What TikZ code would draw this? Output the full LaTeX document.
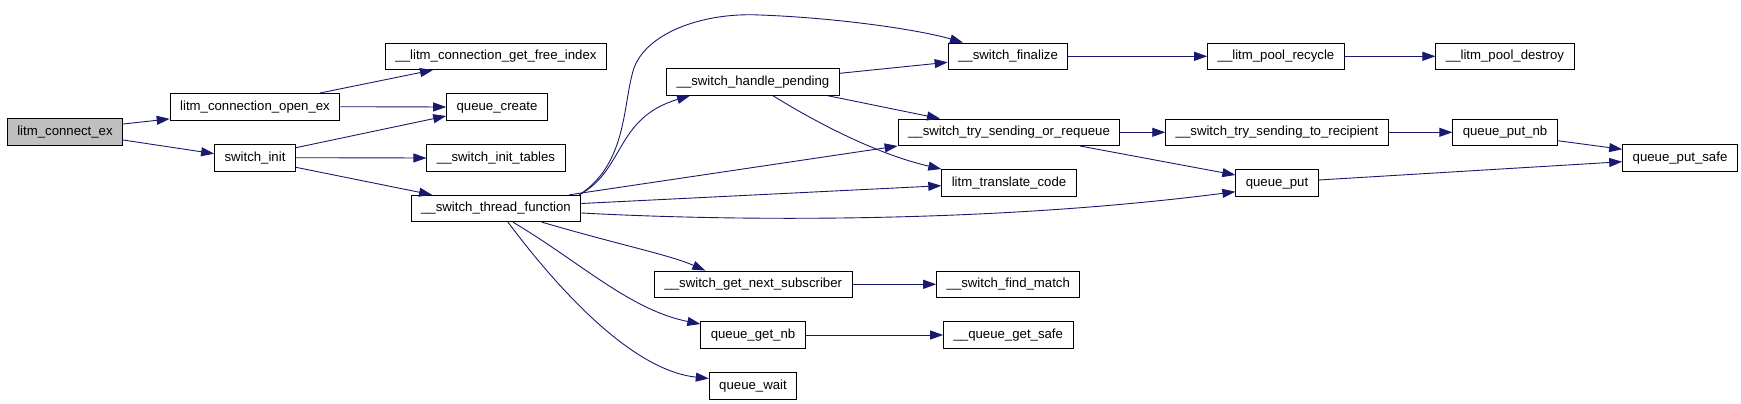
\documentclass[tikz,border=0pt]{standalone}
\usepackage{fontspec}
\setmainfont{Liberation Sans}
\usetikzlibrary{arrows.meta}
\definecolor{xNavy}{RGB}{25,25,112}
\definecolor{xGray}{RGB}{191,191,191}
\tikzset{
  fn/.style={draw, line width=0.9pt, inner xsep=10pt, inner ysep=0pt, minimum height=26.5pt,
             text height=9.6pt, text depth=2.9pt, font=\fontsize{13.2}{15}\selectfont},
  root/.style={fn, fill=xGray},
  call/.style={-{Triangle[length=13pt, width=9pt]}, line width=0.9pt, xNavy},
}
\begin{document}
\begin{tikzpicture}[x=1pt, y=-1pt]
  \useasboundingbox (0,0) rectangle (1741,404);
  \node[root] (lce)       at (65,132)     {litm\_connect\_ex};
  \node[fn]   (lcoe)      at (255,106.7)  {litm\_connection\_open\_ex};
  \node[fn]   (swinit)    at (255,157.7)  {switch\_init};
  \node[fn]   (lcgfi)     at (496,56.3)   {\_\_litm\_connection\_get\_free\_index};
  \node[fn]   (qcreate)   at (497,107)    {queue\_create};
  \node[fn]   (swinittab) at (496,158)    {\_\_switch\_init\_tables};
  \node[fn]   (swthread)  at (496,208.5)  {\_\_switch\_thread\_function};
  \node[fn]   (swpending) at (753,82)     {\_\_switch\_handle\_pending};
  \node[fn]   (swgetnext) at (753.3,284.3) {\_\_switch\_get\_next\_subscriber};
  \node[fn]   (qgetnb)    at (753,335)    {queue\_get\_nb};
  \node[fn]   (qwait)     at (753,386)    {queue\_wait};
  \node[fn]   (swfinal)   at (1008,56.3)  {\_\_switch\_finalize};
  \node[fn]   (swtryreq)  at (1009,132.3) {\_\_switch\_try\_sending\_or\_requeue};
  \node[fn]   (lxcode)    at (1009,182.7) {litm\_translate\_code};
  \node[fn]   (swfind)    at (1008.3,284.3) {\_\_switch\_find\_match};
  \node[fn]   (qgetsafe)  at (1008.3,335) {\_\_queue\_get\_safe};
  \node[fn]   (poolrec)   at (1276,56.3)  {\_\_litm\_pool\_recycle};
  \node[fn]   (swtryrcpt) at (1277,132.3) {\_\_switch\_try\_sending\_to\_recipient};
  \node[fn]   (qput)      at (1277,182.7) {queue\_put};
  \node[fn]   (pooldes)   at (1505,56.3)  {\_\_litm\_pool\_destroy};
  \node[fn]   (qputnb)    at (1505,132.3) {queue\_put\_nb};
  \node[fn]   (qputsafe)  at (1680,158)   {queue\_put\_safe};
  \draw[call] ([yshift=8pt]lce.east) -- ([yshift=1.5pt]lcoe.south west);
  \draw[call] ([yshift=-8pt]lce.east) -- ([yshift=4pt]swinit.west);
  \draw[call] ([xshift=65pt]lcoe.north) -- ([xshift=-63pt]lcgfi.south);
  \draw[call] (lcoe.east) -- (qcreate.west);
  \draw[call] ([yshift=10pt]swinit.east) -- ([yshift=-9pt]qcreate.west);
  \draw[call] (swinit.east) -- (swinittab.west);
  \draw[call] ([yshift=-9.6pt]swinit.east) -- ([xshift=-64pt]swthread.north);
  \draw[call] ([xshift=-2pt]swthread.north east) .. controls (625,165) and (623,110) .. (632,75)
    .. controls (640,35) and (700,12) .. (760,15) .. controls (840,18) and (920,30) .. ([xshift=-45pt]swfinal.north);
  \draw[call] ([xshift=-2pt]swthread.north east) .. controls (625,170) and (615,118) .. ([xshift=-63pt]swpending.south);
  \draw[call] ([xshift=-12pt]swthread.north east) -- (swtryreq.south west);
  \draw[call] ([yshift=5pt]swthread.east) -- ([yshift=-3pt]lxcode.west);
  \draw[call] ([yshift=-4.5pt]swthread.east) .. controls (750,222) and (1000,222) .. ([yshift=-9pt]qput.west);
  \draw[call] ([xshift=46pt]swthread.south) .. controls (620,245) and (670,255) .. ([xshift=-48pt]swgetnext.north);
  \draw[call] ([xshift=17pt]swthread.south) .. controls (580,262) and (630,310) .. ([yshift=11pt]qgetnb.west);
  \draw[call] ([xshift=12pt]swthread.south) .. controls (555,285) and (630,370) .. ([yshift=7.5pt]qwait.west);
  \draw[call] ([yshift=8.7pt]swpending.east) -- ([yshift=-6pt]swfinal.west);
  \draw[call] ([xshift=-12pt]swpending.south east) -- ([xshift=-69pt]swtryreq.north);
  \draw[call] ([xshift=20pt]swpending.south) .. controls (820,125) and (880,155) .. (lxcode.north west);
  \draw[call] (swfinal.east) -- (poolrec.west);
  \draw[call] (poolrec.east) -- (pooldes.west);
  \draw[call] (swtryreq.east) -- (swtryrcpt.west);
  \draw[call] ([xshift=71pt]swtryreq.south) -- ([yshift=7.7pt]qput.west);
  \draw[call] (swtryrcpt.east) -- (qputnb.west);
  \draw[call] ([yshift=-8.4pt]qputnb.east) -- ([yshift=8.7pt]qputsafe.west);
  \draw[call] ([yshift=2.7pt]qput.east) -- ([yshift=-3.7pt]qputsafe.west);
  \draw[call] (swgetnext.east) -- (swfind.west);
  \draw[call] (qgetnb.east) -- (qgetsafe.west);
\end{tikzpicture}
\end{document}
